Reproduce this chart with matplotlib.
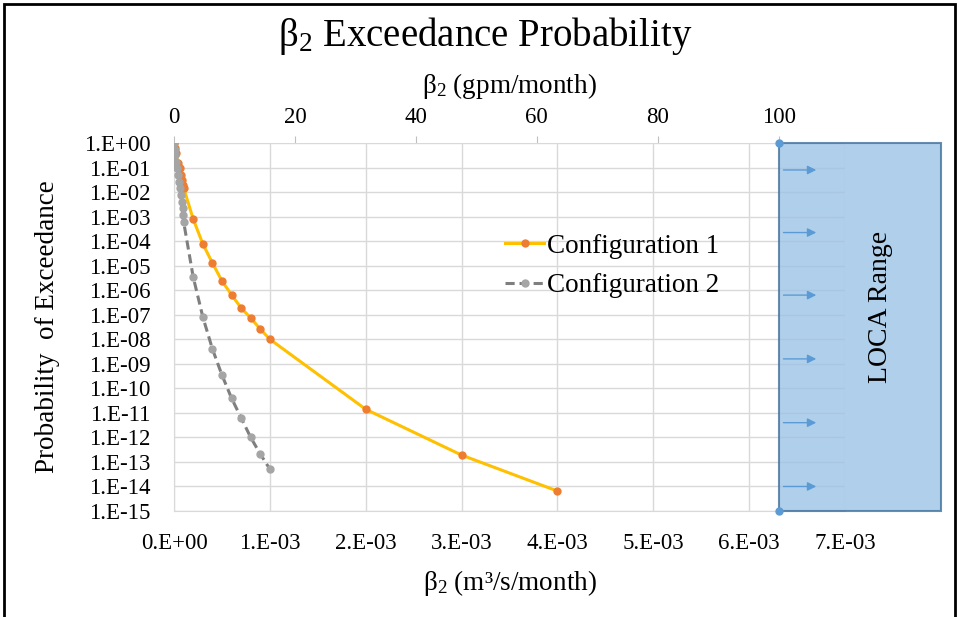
import matplotlib
matplotlib.use("Agg")
import matplotlib.pyplot as plt
from matplotlib.patches import Rectangle
import numpy as np

plt.rcParams['font.family'] = ['Liberation Serif', 'DejaVu Serif']
plt.rcParams['mathtext.fontset'] = 'custom'
plt.rcParams['mathtext.rm'] = 'Liberation Serif'
plt.rcParams['mathtext.it'] = 'Liberation Serif:italic'

GPM_PER_M3S = 15850.3

# Configuration 1 (m3/s/month vs probability of exceedance)
x_config1 = np.array([0, 0.01, 0.02, 0.04, 0.06, 0.07, 0.08, 0.09, 0.1, 0.2, 0.3, 0.4,
                      0.5, 0.6, 0.7, 0.8, 0.9, 1.0, 2.0, 3.0, 4.0]) * 1e-3
p_config1 = [1, 6.5e-1, 4e-1, 1.6e-1, 1e-1, 5e-2, 3.2e-2, 2e-2, 1.5e-2, 8e-4, 7.8e-5, 1.3e-5,
             2.4e-6, 6.5e-7, 1.9e-7, 7.4e-8, 2.6e-8, 1.0e-8, 1.4e-11, 1.9e-13, 6.5e-15]

# Configuration 2
x_config2 = np.array([0, 0.01, 0.015, 0.02, 0.03, 0.04, 0.05, 0.06, 0.07, 0.08, 0.09, 0.095,
                      0.1, 0.2, 0.3, 0.4, 0.5, 0.6, 0.7, 0.8, 0.9, 1.0]) * 1e-3
p_config2 = [1, 5.2e-1, 3.3e-1, 1.7e-1, 9.8e-2, 5.1e-2, 2.6e-2, 1.5e-2, 7.9e-3, 4.1e-3, 2.3e-3,
             1.2e-3, 6.3e-4, 3.5e-6, 8.3e-8, 4.1e-9, 3.5e-10, 4e-11, 6.3e-12, 1e-12, 2.1e-13, 5.1e-14]

# LOCA range starts at 100 gpm
loca_start_gpm = 100
loca_end_m3s = 8.0e-3
arrow_exps = [-1.1, -3.65, -6.2, -8.8, -11.4, -14.0]

x_ticks = np.arange(0, 8) * 1e-3
top_ticks = [0, 20, 40, 60, 80, 100]
y_exps = np.arange(0, -16, -1)


def sci_label(v):
    m, e = "{:.0e}".format(v).split('e')
    return "{}.E{}".format(m, e)


fig = plt.figure(figsize=(9.59, 6.17), dpi=100)
ax = fig.add_axes([174 / 959, 1 - 511 / 617, 671 / 959, 368 / 617])

ax.plot(x_config1, p_config1, color='#FFC000', lw=2.2, marker='o', ms=5,
        mfc='#ED7D31', mec='#ED7D31', label='Configuration 1', zorder=4)
ax.plot(x_config2, p_config2, color='#7F7F7F', lw=2.2, ls=(0, (3, 1.6)), marker='o', ms=5,
        mfc='#A5A5A5', mec='#A5A5A5', label='Configuration 2', zorder=4)

ax.set_yscale('log')
ax.set_ylim(1e-15, 1e0)
ax.set_xlim(0, 7e-3)
ax.set_yticks([10.0 ** e for e in y_exps])
ax.set_yticklabels(["1.E{:+03d}".format(int(e)) for e in y_exps])
ax.minorticks_off()
ax.set_xticks(x_ticks)
ax.set_xticklabels([sci_label(v) for v in x_ticks])
ax.grid(True, color='#D9D9D9', lw=1)
ax.set_axisbelow(True)
for s in ['top', 'right']:
    ax.spines[s].set_visible(False)
for s in ['left', 'bottom']:
    ax.spines[s].set_color('#D9D9D9')
ax.tick_params(axis='both', length=0, labelsize=16.5)
ax.tick_params(axis='x', pad=16)
ax.tick_params(axis='y', pad=17)

ax.set_xlabel(r'$\mathregular{\beta_2}$ (m³/s/month)', fontsize=19.5)
ax.xaxis.set_label_coords(0.5, -0.155)
ax.set_ylabel('Probability  of Exceedance', fontsize=19.5)
ax.yaxis.set_label_coords(-0.17, 0.5)

# secondary axis in gpm
top = ax.secondary_xaxis('top', functions=(lambda x: x * GPM_PER_M3S, lambda g: g / GPM_PER_M3S))
top.set_xticks(top_ticks)
top.tick_params(length=5, color='#BFBFBF', labelsize=16.5, pad=6)
top.spines['top'].set_visible(False)
top.set_xlabel(r'$\mathregular{\beta_2}$ (gpm/month)', fontsize=19.5, labelpad=10)

# LOCA range box
x0 = loca_start_gpm / GPM_PER_M3S
rect = Rectangle((x0, 1e-15), loca_end_m3s - x0, 1 - 1e-15, facecolor='#9DC3E6', alpha=0.8,
                 edgecolor='#41719C', lw=1.5, clip_on=False, zorder=3)
ax.add_patch(rect)
ax.plot([x0, x0], [1e0, 1e-15], ls='none', marker='o', ms=5, color='#5B9BD5',
        clip_on=False, zorder=5)
for e in arrow_exps:
    ax.annotate('', xy=(x0 + 0.42e-3, 10.0 ** e), xytext=(x0 + 0.02e-3, 10.0 ** e),
                arrowprops=dict(arrowstyle='-|>', color='#5B9BD5', lw=1, mutation_scale=13),
                zorder=5, annotation_clip=False)
ax.text(7.37e-3, 10 ** -6.68, 'LOCA Range', rotation=90, fontsize=20,
        ha='center', va='center', zorder=6)

fig.legend(loc='center', bbox_to_anchor=(612 / 959, 1 - 266 / 617), frameon=False,
           fontsize=19.5, handlelength=1.45, handletextpad=0.1, labelspacing=0.55)

fig.text(0.506, 1 - 36 / 617, r'$\mathregular{\beta_2}$ Exceedance Probability',
         fontsize=28, ha='center', va='center')

# outer frame
fig.add_artist(Rectangle((4 / 959, -0.1), 951 / 959, 1.1 - 4 / 617, transform=fig.transFigure,
                         fill=False, edgecolor='black', lw=2))

fig.savefig('out.png', dpi=100)
